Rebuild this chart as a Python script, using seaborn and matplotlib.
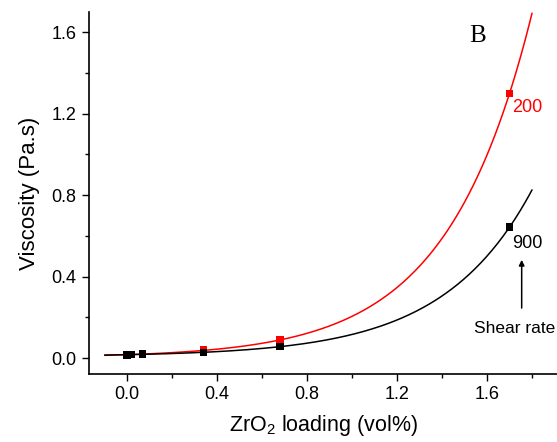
import numpy as np
import pandas as pd
import matplotlib
matplotlib.use("Agg")
import matplotlib.pyplot as plt
import seaborn as sns
from matplotlib.ticker import MultipleLocator, FormatStrFormatter

# data
loading = [0.0, 0.017, 0.068, 0.34, 0.68, 1.70]
visc_200 = [0.012, 0.018, 0.022, 0.040, 0.088, 1.30]
visc_900 = [0.015, 0.017, 0.020, 0.028, 0.056, 0.643]
shear_labels = ["200", "900"]

sns.set_style("ticks")
plt.rcParams['font.family'] = ['Liberation Sans', 'DejaVu Sans']
plt.rcParams['mathtext.fontset'] = 'custom'
plt.rcParams['mathtext.rm'] = 'Liberation Sans'
plt.rcParams['mathtext.it'] = 'Liberation Sans:italic'
plt.rcParams['text.color'] = 'black'
plt.rcParams['axes.labelcolor'] = 'black'
plt.rcParams['xtick.color'] = 'black'
plt.rcParams['ytick.color'] = 'black'
plt.rcParams['axes.edgecolor'] = 'black'


def exp_fit(x, y):
    # y = y0 + A*exp(b*x), grid over b + linear least squares
    x = np.asarray(x)
    y = np.asarray(y)
    best = None
    for b in np.linspace(1.0, 4.0, 3001):
        M = np.column_stack([np.ones_like(x), np.exp(b * x)])
        coef, _, _, _ = np.linalg.lstsq(M, y, rcond=None)
        err = np.sum((M @ coef - y) ** 2)
        if best is None or err < best[0]:
            best = (err, coef[0], coef[1], b)
    _, y0, A, b = best
    return lambda t: y0 + A * np.exp(b * t)


xs = np.linspace(-0.1, 1.8, 300)
f200 = exp_fit(loading, visc_200)
f900 = exp_fit(loading, visc_900)

pts = pd.DataFrame({"x": loading * 2,
                    "y": visc_200 + visc_900,
                    "rate": ["200"] * 6 + ["900"] * 6})
fits = pd.DataFrame({"x": np.concatenate([xs, xs]),
                     "y": np.concatenate([f200(xs), f900(xs)]),
                     "rate": ["200"] * len(xs) + ["900"] * len(xs)})
pal = {"200": "#ff0000", "900": "#000000"}

fig = plt.figure(figsize=(5.57, 4.42), dpi=100)
ax = fig.add_axes([0.160, 0.154, 0.840, 0.819])

sns.lineplot(data=fits, x="x", y="y", hue="rate", palette=pal, ax=ax,
             linewidth=1.1, legend=False, sort=False)
sns.scatterplot(data=pts, x="x", y="y", hue="rate", palette=pal, ax=ax,
                marker="s", s=30, linewidth=0, legend=False, zorder=3)

ax.set_xlim(-0.169, 1.911)
ax.set_ylim(-0.078, 1.70)
ax.xaxis.set_major_locator(MultipleLocator(0.4))
ax.xaxis.set_minor_locator(MultipleLocator(0.2))
ax.yaxis.set_major_locator(MultipleLocator(0.4))
ax.yaxis.set_minor_locator(MultipleLocator(0.2))
ax.xaxis.set_major_formatter(FormatStrFormatter('%.1f'))
ax.yaxis.set_major_formatter(FormatStrFormatter('%.1f'))
ax.tick_params(which='major', length=5, width=1, labelsize=13, direction='out', pad=4)
ax.tick_params(which='minor', length=3, width=1, direction='out')
for s in ['left', 'bottom']:
    ax.spines[s].set_linewidth(1.2)
sns.despine(ax=ax)

ax.set_xlabel("ZrO$_2$ loading (vol%)", fontsize=15.5, labelpad=7)
ax.set_ylabel("Viscosity (Pa.s)", fontsize=16, labelpad=8)

ax.text(1.556, 1.58, "B", fontsize=18, family='Liberation Serif', ha='center', va='center')
ax.text(1.711, 1.232, shear_labels[0], color='#ff0000', fontsize=13, va='center')
ax.text(1.711, 0.564, shear_labels[1], color='black', fontsize=13, va='center')
ax.annotate("", xy=(1.754, 0.496), xytext=(1.754, 0.232),
            arrowprops=dict(arrowstyle='-|>', color='black', lw=1.1, mutation_scale=8))
ax.text(1.905, 0.147, "Shear rate", fontsize=12.5, ha='right', va='center')

fig.savefig("out.png", dpi=100)
